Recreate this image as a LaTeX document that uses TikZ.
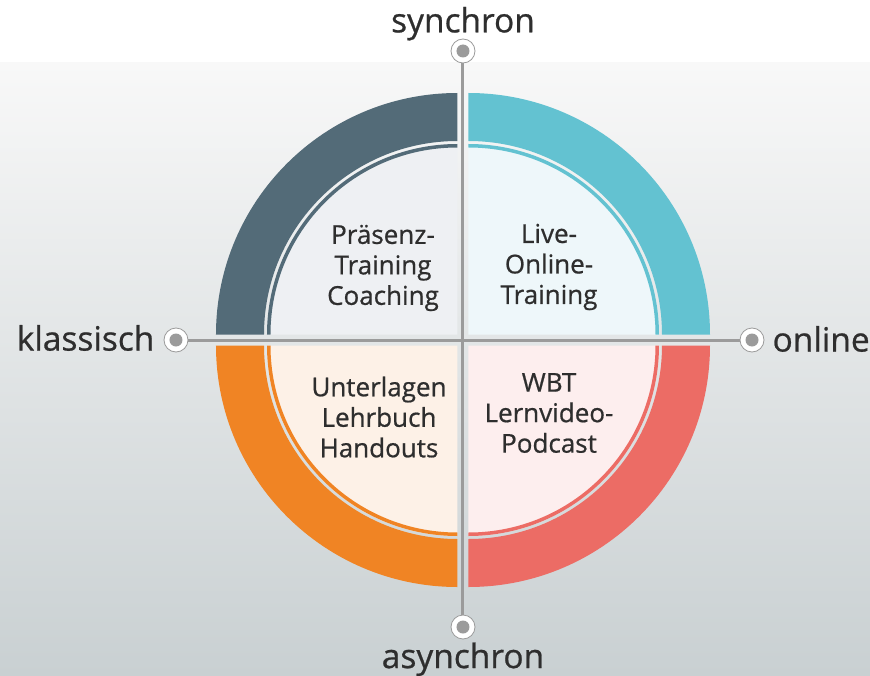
\documentclass[tikz,border=0pt]{standalone}
\usepackage{fontspec}
\setmainfont{Open Sans}
\newfontfamily\medfont{Open Sans}[FakeBold=0.7]
\usetikzlibrary{positioning}
\definecolor{slatering}{HTML}{536B78}
\definecolor{cyanring}{HTML}{63C2D1}
\definecolor{orangering}{HTML}{F08424}
\definecolor{coralring}{HTML}{EC6C65}
\definecolor{slatefill}{HTML}{EEF0F3}
\definecolor{cyanfill}{HTML}{EEF7FA}
\definecolor{orangefill}{HTML}{FDF1E7}
\definecolor{coralfill}{HTML}{FDEEEE}
\definecolor{axisgray}{HTML}{9B9B9B}
\definecolor{ink}{HTML}{2E2E2E}
\definecolor{bgtop}{HTML}{F8F8F8}
\definecolor{bgbottom}{HTML}{C9D0D2}

\begin{document}
\begin{tikzpicture}[x=1pt,y=1pt,
	knob/.style={circle,draw=axisgray,line width=0.8pt,fill=white,minimum size=24pt,inner sep=0pt,
		path picture={\fill[axisgray] (path picture bounding box.center) circle (6.5pt);}},
	pole/.style={inner sep=0pt,text=ink,font=\medfont\fontsize{33.5}{38}\selectfont},
	quadtext/.style={align=center,text=ink,font=\medfont\fontsize{26}{30.5}\selectfont}]
					\fill[white] (-463,-335) rectangle (407,340);
					\shade[top color=bgtop,bottom color=bgbottom] (-463,-335) rectangle (407,277);
					\useasboundingbox (-463,-335) rectangle (407,340);
					\foreach \angle/\dx/\dy/\ring/\inner in {0/5.5/5.5/cyanring/cyanfill, 90/-5.5/5.5/slatering/slatefill, 180/-5.5/-5.5/orangering/orangefill, 270/5.5/-5.5/coralring/coralfill} {
						\begin{scope}[shift={(\dx,\dy)},rotate=\angle]
							\fill[\inner] (0,0) -- (0:190.5) arc[start angle=0,end angle=90,radius=190.5] -- cycle;
							\fill[\ring] (0:187) -- (0:190.5) arc[start angle=0,end angle=90,radius=190.5] -- (90:187) arc[start angle=90,end angle=0,radius=187] -- cycle;
							\fill[\ring] (0:193.5) -- (0:241.5) arc[start angle=0,end angle=90,radius=241.5] -- (90:193.5) arc[start angle=90,end angle=0,radius=193.5] -- cycle;
						\end{scope}
					}
					\node[knob] (syn) at (0,289) {};
					\node[knob] (asyn) at (0,-287) {};
					\node[knob] (kla) at (-287,0) {};
					\node[knob] (onl) at (289,0) {};
					\draw[axisgray,line width=3pt] (syn) -- (asyn);
					\draw[axisgray,line width=3pt] (kla) -- (onl);
					\node[pole,above=-2pt of syn] (synlabel) {synchron};
					\node[pole,below=3pt of asyn] (asynlabel) {asynchron};
					\node[pole,left=9pt of kla,yshift=2pt] (klalabel) {klassisch};
					\node[pole,right=8pt of onl,yshift=1pt] (onllabel) {online};
					\node[quadtext] (praesenz) at (-80,72) {Präsenz-\\Training\\Coaching};
					\node[quadtext] (live) at (86,73) {Live-\\Online-\\Training};
					\node[quadtext] (unterlagen) at (-84,-77) {Unterlagen\\Lehrbuch\\Handouts};
					\node[quadtext] (wbt) at (86,-73) {WBT\\Lernvideo-\\Podcast};
				\end{tikzpicture}
\end{document}
